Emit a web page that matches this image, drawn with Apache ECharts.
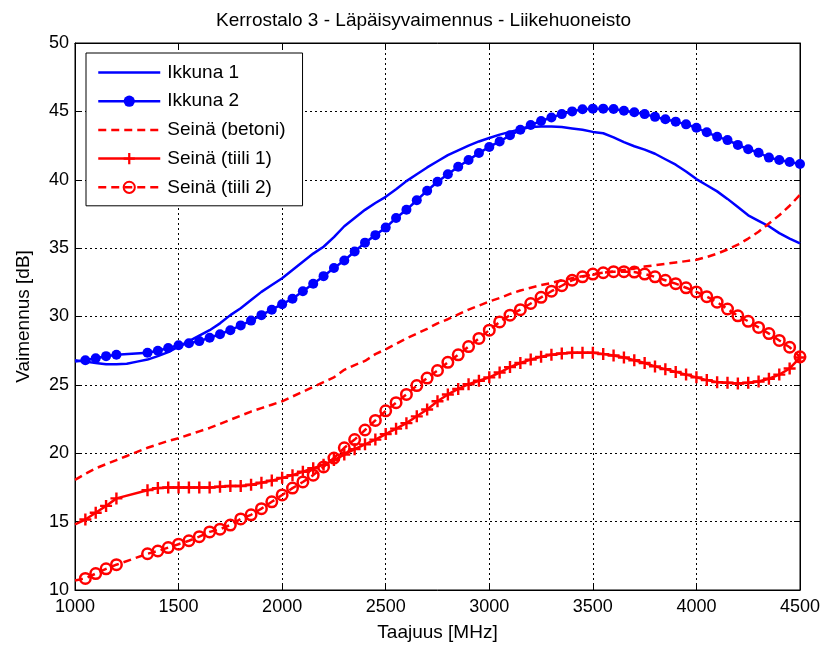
<!DOCTYPE html>
<html>
<head>
<meta charset="utf-8">
<script src="https://cdn.jsdelivr.net/npm/echarts@6/dist/echarts.min.js"></script>
<style>
html,body{margin:0;padding:0;background:#fff;}
#chart{width:826px;height:648px;}
</style>
</head>
<body>
<div id="chart"></div>
<script>
// ---- Data ----
var titleText = 'Kerrostalo 3 - Läpäisyvaimennus - Liikehuoneisto';
var xAxisName = 'Taajuus [MHz]';
var yAxisName = 'Vaimennus [dB]';
var xTicks = [1000, 1500, 2000, 2500, 3000, 3500, 4000, 4500];
var yTicks = [10, 15, 20, 25, 30, 35, 40, 45, 50];
var seriesNames = ['Ikkuna 1', 'Ikkuna 2', 'Seinä (betoni)', 'Seinä (tiili 1)', 'Seinä (tiili 2)'];

// frequencies of the continuous curves
var freqFull = [1000,1050,1100,1150,1200,1250,1300,1350,1400,1450,1500,1550,1600,1650,1700,1750,1800,1850,1900,1950,
  2000,2050,2100,2150,2200,2250,2300,2350,2400,2450,2500,2550,2600,2650,2700,2750,2800,2850,2900,2950,
  3000,3050,3100,3150,3200,3250,3300,3350,3400,3450,3500,3550,3600,3650,3700,3750,3800,3850,3900,3950,
  4000,4050,4100,4150,4200,4250,4300,4350,4400,4450,4500];
// frequencies of the measured (marked) curves; first point drawn without marker
var freqMarked = [1000,1050,1100,1150,1200,1350,1400,1450,1500,1550,1600,1650,1700,1750,1800,1850,1900,1950,
  2000,2050,2100,2150,2200,2250,2300,2350,2400,2450,2500,2550,2600,2650,2700,2750,2800,2850,2900,2950,
  3000,3050,3100,3150,3200,3250,3300,3350,3400,3450,3500,3550,3600,3650,3700,3750,3800,3850,3900,3950,
  4000,4050,4100,4150,4200,4250,4300,4350,4400,4450,4500];

var ikkuna1 = [26.8,26.7,26.6,26.5,26.5,26.55,26.7,26.85,27.1,27.4,27.8,28.2,28.6,29.0,29.5,30.1,30.6,31.2,31.8,32.3,
  32.8,33.4,34.0,34.6,35.1,35.8,36.6,37.2,37.8,38.3,38.75,39.3,39.9,40.4,40.9,41.35,41.8,42.15,42.5,42.8,
  43.05,43.3,43.5,43.7,43.85,43.9,43.9,43.85,43.75,43.65,43.5,43.4,43.1,42.75,42.45,42.2,41.9,41.5,41.1,40.6,
  40.05,39.6,39.15,38.6,38.0,37.4,37.0,36.6,36.1,35.7,35.35];
var ikkuna2 = [26.7,26.8,26.95,27.1,27.2,27.35,27.5,27.7,27.9,28.05,28.2,28.45,28.7,29.0,29.35,29.7,30.1,30.5,
  30.9,31.3,31.85,32.4,32.95,33.55,34.1,34.75,35.4,35.95,36.5,37.2,37.8,38.5,39.2,39.85,40.4,40.95,41.45,41.95,
  42.4,42.8,43.25,43.65,44.0,44.3,44.55,44.8,45.0,45.15,45.2,45.2,45.17,45.05,44.93,44.8,44.6,44.42,44.25,44.05,
  43.8,43.47,43.15,42.9,42.55,42.23,41.98,41.62,41.45,41.3,41.15];
var betoni = [18.05,18.5,18.9,19.2,19.5,19.8,20.1,20.4,20.65,20.9,21.1,21.35,21.6,21.85,22.15,22.45,22.75,23.05,23.3,23.55,
  23.8,24.15,24.5,24.85,25.2,25.55,26.1,26.45,26.75,27.25,27.6,28.0,28.4,28.75,29.1,29.5,29.8,30.15,30.5,30.8,
  31.1,31.35,31.65,31.9,32.1,32.3,32.45,32.65,32.8,32.95,33.05,33.2,33.3,33.4,33.5,33.65,33.75,33.85,33.95,34.05,
  34.15,34.35,34.6,34.9,35.25,35.7,36.2,36.8,37.4,38.1,38.9];
var tiili1 = [14.8,15.15,15.65,16.15,16.7,17.3,17.45,17.5,17.5,17.5,17.5,17.5,17.55,17.6,17.6,17.7,17.85,18.0,
  18.2,18.4,18.65,18.9,19.15,19.5,19.9,20.3,20.65,21.0,21.4,21.8,22.2,22.7,23.2,23.8,24.3,24.7,25.05,25.3,
  25.55,25.9,26.3,26.6,26.85,27.05,27.2,27.3,27.35,27.35,27.35,27.25,27.15,27.0,26.8,26.6,26.35,26.15,25.95,25.75,
  25.55,25.35,25.2,25.15,25.1,25.15,25.25,25.45,25.75,26.2,27.0];
var tiili2 = [10.7,10.85,11.2,11.55,11.85,12.65,12.85,13.1,13.35,13.6,13.9,14.25,14.45,14.75,15.2,15.5,15.95,16.45,
  16.95,17.45,17.9,18.4,19.0,19.65,20.4,21.0,21.7,22.4,23.1,23.7,24.3,24.95,25.5,26.05,26.65,27.2,27.8,28.4,
  29.0,29.6,30.1,30.5,30.95,31.4,31.85,32.25,32.65,32.9,33.1,33.2,33.28,33.28,33.25,33.1,32.9,32.65,32.4,32.1,
  31.8,31.45,31.05,30.55,30.05,29.65,29.2,28.75,28.25,27.75,27.05];

// ---- Build ----
function plain(xs, ys) {
  return xs.map(function (x, i) { return [x, ys[i]]; });
}
function marked(xs, ys) {
  return xs.map(function (x, i) {
    return i === 0 ? { value: [x, ys[i]], symbol: 'none' } : [x, ys[i]];
  });
}

var BLUE = '#0000ff', RED = '#ff0000';
var FONT = 'Liberation Sans, Arial, Helvetica, sans-serif';
var plusPath = 'path://M4,0H6V4H10V6H6V10H4V6H0V4H4Z';
var LW = 2.5;

var chart = echarts.init(document.getElementById('chart'), null, { renderer: 'canvas' });
var xMin = xTicks[0], xMax = xTicks[xTicks.length - 1];
var yMin = yTicks[0], yMax = yTicks[yTicks.length - 1];
var plainLabel = function (v) { return String(v); };

var baseX = {
  type: 'value', min: xMin, max: xMax, interval: 500,
  axisLine: { show: true, onZero: false, lineStyle: { color: '#000', width: 1 } },
  axisTick: { show: true, inside: true, length: 6, lineStyle: { color: '#000' } }
};
var baseY = {
  type: 'value', min: yMin, max: yMax, interval: 5,
  axisLine: { show: true, onZero: false, lineStyle: { color: '#000', width: 1 } },
  axisTick: { show: true, inside: true, length: 6, lineStyle: { color: '#000' } }
};
var hiddenSymbol = { opacity: 0 };

var option = {
  animation: false,
  backgroundColor: '#fff',
  textStyle: { fontFamily: FONT },
  title: {
    text: titleText, left: 211, top: 6,
    textStyle: { fontFamily: FONT, fontSize: 19, fontWeight: 'normal', color: '#000' }
  },
  grid: { left: 75, right: 26, top: 43, bottom: 58, show: true, borderColor: '#000', borderWidth: 1, backgroundColor: '#fff' },
  legend: {
    orient: 'vertical', left: 86, top: 53,
    data: [
      { name: seriesNames[0], itemStyle: hiddenSymbol, lineStyle: { width: LW, color: BLUE } },
      { name: seriesNames[1] },
      { name: seriesNames[2], itemStyle: hiddenSymbol, lineStyle: { width: LW, color: RED, type: [8, 5] } },
      { name: seriesNames[3] },
      { name: seriesNames[4] }
    ],
    backgroundColor: '#fff', borderColor: '#000', borderWidth: 1,
    padding: [10, 17, 9, 11],
    itemWidth: 62, itemHeight: 14, itemGap: 9.7,
    lineStyle: { width: LW },
    textStyle: { fontFamily: FONT, fontSize: 19, color: '#000', padding: [0, 0, 0, 2] }
  },
  xAxis: [
    Object.assign({}, baseX, {
      position: 'bottom',
      name: xAxisName, nameLocation: 'middle', nameGap: 33,
      nameTextStyle: { fontFamily: FONT, fontSize: 19, color: '#000' },
      axisLabel: { show: true, margin: 8, fontFamily: FONT, fontSize: 18, color: '#000', formatter: plainLabel },
      splitLine: { show: true, lineStyle: { color: '#000', type: [2, 3], width: 1 } }
    }),
    Object.assign({}, baseX, {
      position: 'top', axisLabel: { show: false }, splitLine: { show: false }
    })
  ],
  yAxis: [
    Object.assign({}, baseY, {
      position: 'left',
      name: yAxisName, nameLocation: 'middle', nameGap: 42,
      nameTextStyle: { fontFamily: FONT, fontSize: 19, color: '#000' },
      axisLabel: { show: true, margin: 6, fontFamily: FONT, fontSize: 18, color: '#000', formatter: plainLabel },
      splitLine: { show: true, lineStyle: { color: '#000', type: [2, 3], width: 1 } }
    }),
    Object.assign({}, baseY, {
      position: 'right', axisLabel: { show: false }, splitLine: { show: false }
    })
  ],
  series: [
    {
      name: seriesNames[0], type: 'line', data: plain(freqFull, ikkuna1),
      symbol: 'none', lineStyle: { color: BLUE, width: LW }, itemStyle: { color: BLUE }
    },
    {
      name: seriesNames[1], type: 'line', data: marked(freqMarked, ikkuna2),
      symbol: 'circle', symbolSize: 10, showAllSymbol: true,
      lineStyle: { color: BLUE, width: LW }, itemStyle: { color: BLUE }
    },
    {
      name: seriesNames[2], type: 'line', data: plain(freqFull, betoni),
      symbol: 'none', lineStyle: { color: RED, width: LW, type: [8, 5] }, itemStyle: { color: RED }
    },
    {
      name: seriesNames[3], type: 'line', data: marked(freqMarked, tiili1),
      symbol: plusPath, symbolSize: 12, showAllSymbol: true,
      lineStyle: { color: RED, width: LW }, itemStyle: { color: RED }
    },
    {
      name: seriesNames[4], type: 'line', data: marked(freqMarked, tiili2),
      symbol: 'circle', symbolSize: 10.5, showAllSymbol: true,
      lineStyle: { color: RED, width: LW, type: [8, 5] },
      itemStyle: { color: 'rgba(255,255,255,0)', borderColor: RED, borderWidth: 2.5 }
    }
  ]
};
chart.setOption(option);
</script>
</body>
</html>
